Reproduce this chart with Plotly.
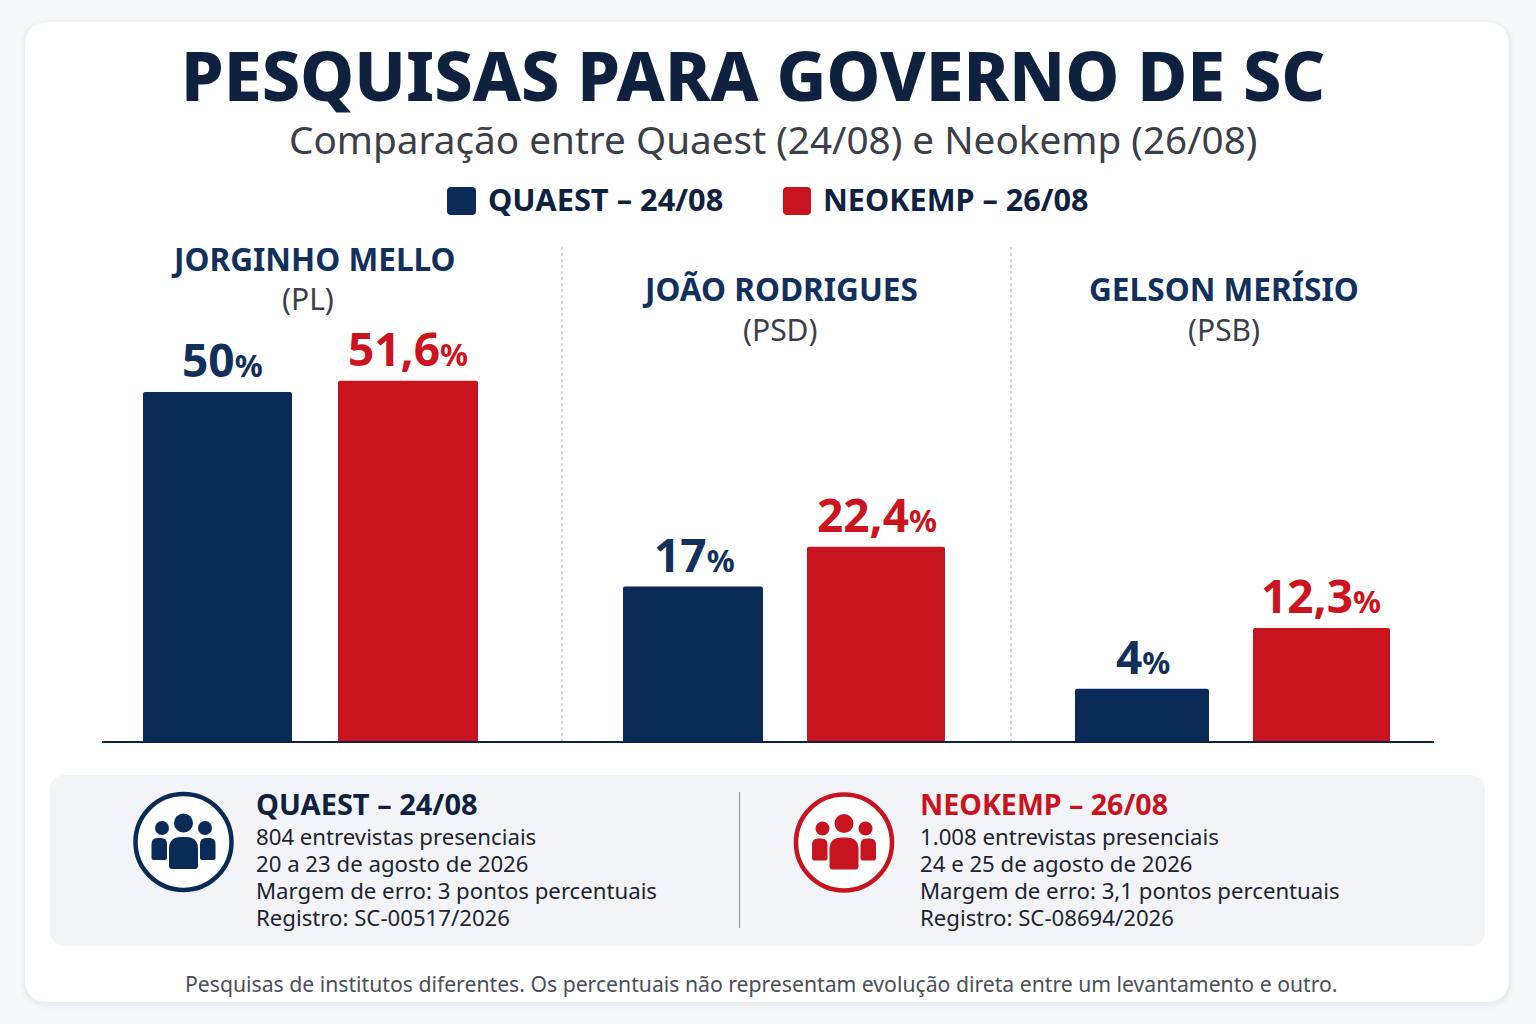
import plotly.graph_objects as go

W, H = 1536, 1024
FONT = "Noto Sans"
NAVY = "#0a2b57"
INK = "#0e2240"
RED = "#c8141f"

# ---- data ----
candidates = ["JORGINHO MELLO", "JOÃO RODRIGUES", "GELSON MERÍSIO"]
parties = ["(PL)", "(PSD)", "(PSB)"]
series_names = ["QUAEST – 24/08", "NEOKEMP – 26/08"]
quaest_values = ["50", "17", "4"]
neokemp_values = ["51,6", "22,4", "12,3"]
# The reference's bars do not share one scale with their printed labels:
# these are the bar heights, on the 50-unit = 350 px axis.
quaest_heights = [50.0, 22.2, 7.6]
neokemp_heights = [51.6, 27.9, 16.3]

quaest_info = ["804 entrevistas presenciais", "20 a 23 de agosto de 2026",
               "Margem de erro: 3 pontos percentuais", "Registro: SC-00517/2026"]
neokemp_info = ["1.008 entrevistas presenciais", "24 e 25 de agosto de 2026",
                "Margem de erro: 3,1 pontos percentuais", "Registro: SC-08694/2026"]

# ---- layout geometry (pixels on the page) ----
q_left, q_right = [143, 623, 1075], [292, 763, 1209]
n_left, n_right = [338, 807, 1253], [478, 945, 1390]
BASE_Y = 742
PX_PER_UNIT = 7.0


def px(x):
    return x / W


def py(y):
    return 1 - y / H


def rr(x0, y0, x1, y1, r):
    return (f"M {px(x0+r)} {py(y0)} L {px(x1-r)} {py(y0)} Q {px(x1)} {py(y0)} {px(x1)} {py(y0+r)} "
            f"L {px(x1)} {py(y1-r)} Q {px(x1)} {py(y1)} {px(x1-r)} {py(y1)} "
            f"L {px(x0+r)} {py(y1)} Q {px(x0)} {py(y1)} {px(x0)} {py(y1-r)} "
            f"L {px(x0)} {py(y0+r)} Q {px(x0)} {py(y0)} {px(x0+r)} {py(y0)} Z")


def body(x0, y0, x1, y1, rt, rb):
    return (f"M {px(x0)} {py(y0+rt)} Q {px(x0)} {py(y0)} {px(x0+rt)} {py(y0)} "
            f"L {px(x1-rt)} {py(y0)} Q {px(x1)} {py(y0)} {px(x1)} {py(y0+rt)} "
            f"L {px(x1)} {py(y1-rb)} Q {px(x1)} {py(y1)} {px(x1-rb)} {py(y1)} "
            f"L {px(x0+rb)} {py(y1)} Q {px(x0)} {py(y1)} {px(x0)} {py(y1-rb)} Z")


shapes = []


def path_shape(path, fill, layer="below"):
    shapes.append(dict(type="path", xref="paper", yref="paper", path=path,
                       fillcolor=fill, line=dict(width=0), layer=layer))


def circle(cx, cy, r, fill, line_color=None, lw=0, layer="above"):
    shapes.append(dict(type="circle", xref="paper", yref="paper",
                       x0=px(cx-r), x1=px(cx+r), y0=py(cy+r), y1=py(cy-r),
                       fillcolor=fill, line=dict(color=line_color or fill, width=lw), layer=layer))


def line(x0, y0, x1, y1, color, width, dash="solid"):
    shapes.append(dict(type="line", xref="paper", yref="paper",
                       x0=px(x0), x1=px(x1), y0=py(y0), y1=py(y1),
                       line=dict(color=color, width=width, dash=dash), layer="above"))


# card with soft shadow
for grow, col in [(6, "rgba(30,45,70,0.012)"), (4, "rgba(30,45,70,0.016)"), (2, "rgba(30,45,70,0.022)")]:
    path_shape(rr(25-grow, 22-grow+2, 1509+grow, 1002+grow+2, 24+grow), col)
path_shape(rr(25, 22, 1509, 1002, 24), "#ffffff")
path_shape(rr(50, 775, 1485, 946, 16), "#f2f4f7")

line(562, 247, 562, BASE_Y, "#b9bcc0", 1.2, "dot")
line(1011, 247, 1011, BASE_Y, "#b9bcc0", 1.2, "dot")
line(102, BASE_Y, 1434, BASE_Y, INK, 2)
line(739.5, 792, 739.5, 928, "#9a9ea3", 1.3)

# legend swatches
path_shape(rr(447, 187, 476, 215, 4), NAVY)
path_shape(rr(783, 187, 811, 215, 4), RED)


def icon(cx, cy, color):
    circle(cx, cy, 48, "#ffffff", color, 4.5)
    circle(cx, cy-19, 9.5, color)
    circle(cx-21.5, cy-14, 7, color)
    circle(cx+21.5, cy-14, 7, color)
    path_shape(body(cx-32, cy-4, cx-16.5, cy+18, 6, 2), color, "above")
    path_shape(body(cx+16.5, cy-4, cx+32, cy+18, 6, 2), color, "above")
    path_shape(rr(cx-15, cy-5, cx+15, cy+27, 3), "#ffffff", "above")
    path_shape(body(cx-14.5, cy-5, cx+14.5, cy+27, 12, 3), color, "above")


icon(183.5, 842, NAVY)
icon(844, 842.5, RED)

ann = []


def text(x, y, s, size, color, anchor="center", bold=False, weight=None):
    ann.append(dict(xref="paper", yref="paper", x=px(x), y=py(y), text=s, showarrow=False,
                    xanchor=anchor, yanchor="middle", align=anchor,
                    font=dict(family=FONT, size=size, color=color,
                              weight=weight or (700 if bold else 400))))


text(753, 74, "PESQUISAS PARA GOVERNO DE SC", 68.3, INK, weight=800)
text(773, 139, "Comparação entre Quaest (24/08) e Neokemp (26/08)", 38.7, "#3b4048")
text(486, 199, series_names[0], 30.8, INK, "left", True)
text(821, 199, series_names[1], 30.6, INK, "left", True)

name_x = [313, 780, 1224]
name_y = [258, 288, 288]
party_y = [298, 329, 329]
for i in range(3):
    text(name_x[i], name_y[i], candidates[i], 31.6, "#12305c", bold=True)
    text(308 if i == 0 else name_x[i], party_y[i], parties[i], 30, "#3b4048")

# value labels sit on the bars through the data axes
q_label_cx = [222, 694, 1143]
n_label_cx = [408, 877, 1321]


def value_label(cx, h, value, color):
    ann.append(dict(xref="x", yref="y", x=cx, y=h, text=f"{value}<span style='font-size:31px'>%</span>",
                    showarrow=False, xanchor="center", yanchor="bottom", yshift=0,
                    font=dict(family=FONT, size=46, color=color, weight=700)))


for i in range(3):
    value_label(q_label_cx[i], quaest_heights[i], quaest_values[i], "#12305c")
    value_label(n_label_cx[i], neokemp_heights[i], neokemp_values[i], "#cc1420")

# info panel
text(254, 803, series_names[0], 29, INK, "left", True)
text(918, 803, series_names[1], 28.6, RED, "left", True)
for k, yy in enumerate([836, 863, 890, 917]):
    text(254, yy, quaest_info[k], 22.2, "#1c2430", "left")
    text(918, yy, neokemp_info[k], 22.2, "#1c2430", "left")

text(761, 983, "Pesquisas de institutos diferentes. Os percentuais não representam evolução direta entre um levantamento e outro.",
     21.2, "#4a4f57")

fig = go.Figure()
for name, left, right, heights, color in [
    (series_names[0], q_left, q_right, quaest_heights, NAVY),
    (series_names[1], n_left, n_right, neokemp_heights, RED),
]:
    fig.add_trace(go.Bar(
        name=name,
        x=[(a+b)/2 for a, b in zip(left, right)],
        width=[b-a for a, b in zip(left, right)],
        y=heights,
        marker=dict(color=color, line=dict(width=0), cornerradius=2),
        hoverinfo="skip",
    ))

fig.update_layout(
    width=W, height=H, autosize=False,
    margin=dict(l=0, r=0, t=0, b=0),
    barmode="overlay",
    showlegend=False,
    paper_bgcolor="#f7f8f9",
    plot_bgcolor="rgba(0,0,0,0)",
    shapes=shapes,
    annotations=ann,
    xaxis=dict(range=[0, W], visible=False, fixedrange=True),
    yaxis=dict(range=[-(H-BASE_Y)/PX_PER_UNIT, BASE_Y/PX_PER_UNIT], visible=False, fixedrange=True),
)

fig.write_html("out.html", config={"displayModeBar": False},
               post_script="document.body.style.margin='0';document.body.style.overflow='hidden';")
